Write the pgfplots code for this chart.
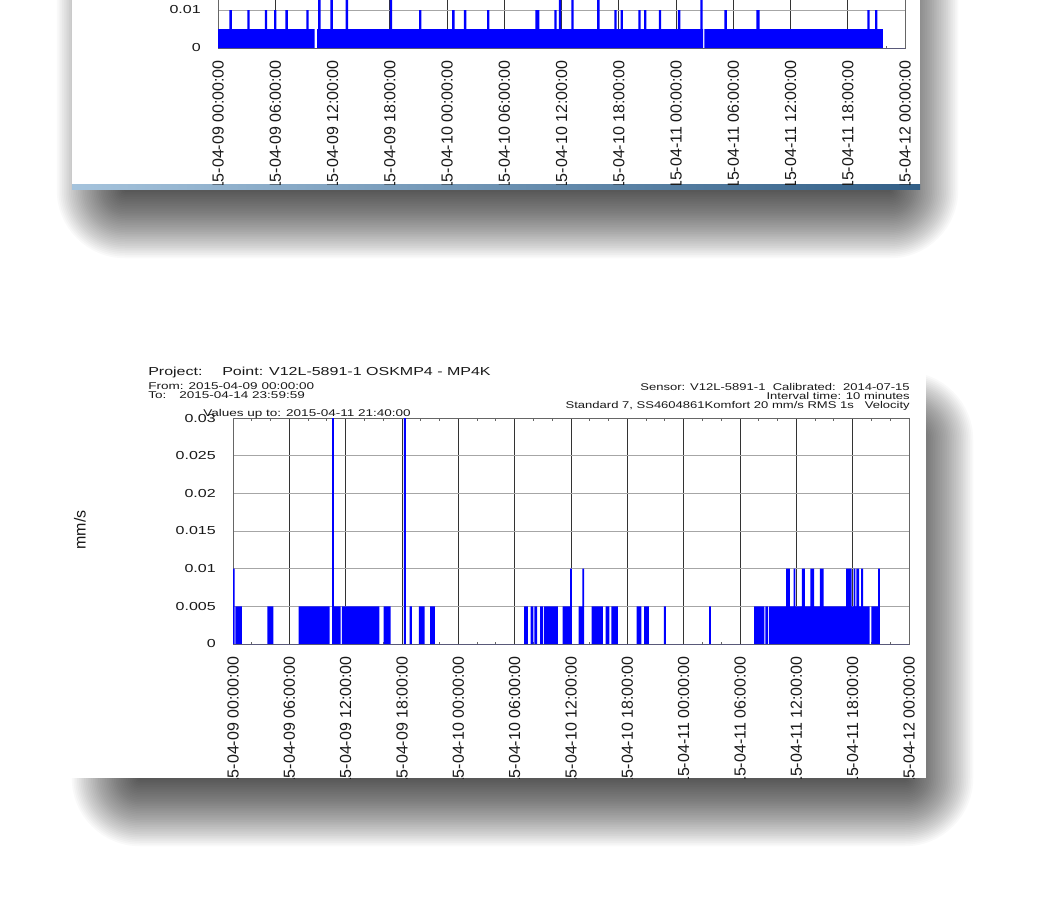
\documentclass[border=0pt]{standalone}
\usepackage{fontspec}
\setmainfont{Liberation Sans}
\usepackage{pgfplots}
\pgfplotsset{compat=1.18}

\definecolor{barblue}{RGB}{0,0,255}
\newcommand\hdrfont{\fontsize{11.6}{12}\selectfont}
\newcommand\smfont{\fontsize{9.8}{10}\selectfont}
\newcommand\softshadow[4]{%
  \foreach \i in {0,...,39}{%
    \pgfmathsetmacro\dd{1.75*\i}%
    \fill[black,opacity=0.022,rounded corners=\dd pt] (#1-\dd,#2-\dd) rectangle (#3+\dd,#4+\dd);
  }}

\pgfplotsset{
  mychart/.style={
    scale only axis,
    xmin=0, xmax=72, ymin=0,
    xtick={0,6,...,72},
    minor x tick num=2,
    grid=major,
    scaled y ticks=false,
    x grid style={black!80, line width=0.8pt},
    y grid style={black!35, line width=0.8pt},
    axis line style={black!60, line width=0.8pt},
    major tick length=0pt,
    minor tick length=2.5pt,
    tick align=inside,
    tick style={black!60, line width=0.8pt},
    ytick style={draw=none},
    xticklabels={2015-04-09 00:00:00,2015-04-09 06:00:00,2015-04-09 12:00:00,2015-04-09 18:00:00,2015-04-10 00:00:00,2015-04-10 06:00:00,2015-04-10 12:00:00,2015-04-10 18:00:00,2015-04-11 00:00:00,2015-04-11 06:00:00,2015-04-11 12:00:00,2015-04-11 18:00:00,2015-04-12 00:00:00},
    xticklabel style={rotate=90, anchor=east, inner sep=0pt, font=\fontsize{16}{16}\selectfont, text=black!90},
    xticklabel shift=12pt,
    yticklabel style={anchor=east, inner sep=0pt, font=\hdrfont, xscale=1.38, text=black!90},
    yticklabel shift=17pt,
    axis on top=false,
  }
}

\begin{document}
\begin{tikzpicture}
\begin{scope}[x=1pt,y=-1pt]
  \fill[white] (0,0) rectangle (1061,907);
  \softshadow{125}{-60}{890}{190}
  \softshadow{140}{440}{905}{778}
  \fill[white] (72,-60) rectangle (920,184);
  \shade[left color={rgb,255:red,165;green,195;blue,220}, right color={rgb,255:red,50;green,95;blue,135}] (72,184) rectangle (920,189);
  \fill[white] (65,357) rectangle (926,778);
\end{scope}

% ---- top (cropped) chart ----
\begin{scope}
\clip (72pt,0pt) rectangle (920pt,-184pt);
\begin{axis}[mychart, at={(218pt,-48pt)}, anchor=south west,
  width=687pt, height=114pt, ymax=0.03,
  ytick={0,0.01,0.02,0.03}, yticklabels={0,0.01,0.02,0.03}]
\addplot[const plot, fill=barblue, draw=none] coordinates {
(0,0.005) (1.2,0.01) (1.45,0.005) (3.07,0.01) (3.32,0.005) (4.9,0.01) (5.15,0.005)
(5.88,0.01) (6.13,0.005) (7.07,0.01) (7.32,0.005) (9.25,0.01) (9.5,0.005)
(10.13,0) (10.4,0.005) (10.5,0.03) (10.75,0.005) (11.78,0.03) (12.03,0.005)
(13.38,0.03) (13.63,0.005) (18.0,0.03) (18.25,0.005) (21.07,0.01) (21.32,0.005)
(24.54,0.01) (24.79,0.005) (25.77,0.01) (26.02,0.005) (28.2,0.01) (28.45,0.005)
(33.26,0.01) (33.67,0.005) (35.25,0.01) (35.5,0.005) (35.72,0.03) (35.97,0.005)
(37.03,0.03) (37.28,0.005) (39.74,0.03) (39.99,0.005) (41.54,0.01) (41.79,0.005)
(42.19,0.01) (42.44,0.005) (44.05,0.01) (44.3,0.005) (44.65,0.01) (44.9,0.005)
(46.2,0.01) (46.45,0.005) (48.2,0.01) (48.45,0.005) (50.55,0.03) (50.8,0.005)
(50.85,0) (50.97,0.005) (53.07,0.01) (53.32,0.005) (56.43,0.01) (56.77,0.005)
(68.05,0.01) (68.3,0.005) (68.86,0.01) (69.11,0.005) (69.67,0) (72,0)
} \closedcycle;
\end{axis}
\end{scope}

% ---- bottom chart ----
\begin{scope}
\clip (65pt,-357pt) rectangle (926pt,-778pt);
\begin{axis}[mychart, at={(233pt,-644pt)}, anchor=south west,
  width=676pt, height=226pt, ymax=0.03,
  ytick={0,0.005,0.01,0.015,0.02,0.025,0.03},
  yticklabels={0,0.005,0.01,0.015,0.02,0.025,0.03}]
\addplot[const plot, fill=barblue, draw=none] coordinates {
(0,0.01) (0.17,0) (0.25,0.005) (0.95,0) (3.65,0.005) (4.3,0) (7.0,0.005) (10.3,0)
(10.55,0.03) (10.75,0.005) (11.45,0) (11.6,0.005) (15.6,0) (16.05,0.005) (16.8,0)
(18.2,0.03) (18.4,0) (18.8,0.005) (19.05,0) (19.8,0.005) (20.4,0) (21.0,0.005) (21.5,0)
(31.0,0.005) (31.4,0) (31.7,0.005) (32.0,0) (32.1,0.005) (32.4,0) (32.7,0.005) (33.0,0)
(33.1,0.005) (34.6,0) (35.1,0.005) (35.9,0.01) (36.1,0) (36.8,0.005) (37.2,0.01) (37.4,0)
(38.2,0.005) (39.4,0) (39.7,0.005) (40.1,0) (40.3,0.005) (41.0,0) (43.0,0.005) (43.5,0)
(43.8,0.005) (44.3,0) (45.9,0.005) (46.1,0) (50.7,0.005) (50.9,0) (55.5,0.005) (56.6,0)
(56.7,0.005) (57.0,0) (57.1,0.005) (58.9,0.01) (59.3,0.005) (59.7,0.01) (59.9,0.005)
(60.6,0.01) (60.9,0.005) (61.5,0.01) (61.9,0.005) (62.5,0.01) (62.9,0.005) (65.3,0.01)
(65.9,0.005) (66.1,0.01) (66.3,0.005) (66.4,0.01) (66.7,0.005) (66.9,0.01) (67.1,0.005)
(67.8,0) (68.0,0.005) (68.7,0.01) (68.9,0) (72,0)
} \closedcycle;
\end{axis}
\begin{scope}[x=1pt,y=-1pt, every node/.style={inner sep=0pt, text=black!90}]
  \node[anchor=base west, font=\hdrfont, xscale=1.38] at (148,375) {Project:};
  \node[anchor=base west, font=\hdrfont, xscale=1.38] at (222,375) {Point: V12L-5891-1 OSKMP4 - MP4K};
  \node[anchor=base west, font=\smfont, xscale=1.38] at (148,389) {From: 2015-04-09 00:00:00};
  \node[anchor=base west, font=\smfont, xscale=1.38] at (148,398) {To:};
  \node[anchor=base west, font=\smfont, xscale=1.38] at (179,398) {2015-04-14 23:59:59};
  \node[anchor=base west, font=\smfont, xscale=1.38] at (203,416) {Values up to: 2015-04-11 21:40:00};
  \node[anchor=base east, font=\smfont, xscale=1.33] at (910,390) {Sensor: V12L-5891-1\ \ Calibrated:\ \ 2014-07-15};
  \node[anchor=base east, font=\smfont, xscale=1.33] at (910,399) {Interval time: 10 minutes};
  \node[anchor=base east, font=\smfont, xscale=1.33] at (910,408) {Standard 7, SS4604861Komfort 20 mm/s RMS 1s\ \ \ Velocity};
  \node[rotate=90, font=\fontsize{16}{16}\selectfont] at (80,530) {mm/s};
\end{scope}
\end{scope}

\pgfresetboundingbox
\path[use as bounding box] (0pt,0pt) rectangle (1061pt,-907pt);
\end{tikzpicture}
\end{document}
